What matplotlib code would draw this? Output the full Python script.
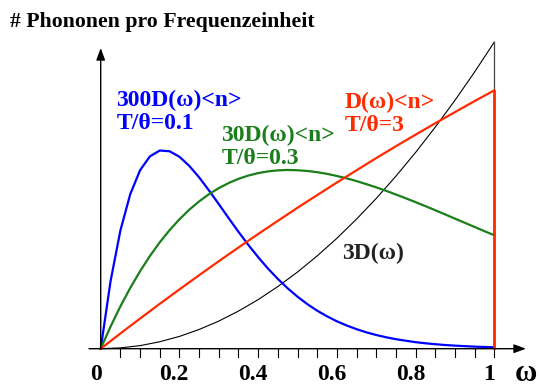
import matplotlib
matplotlib.use("Agg")
import matplotlib.pyplot as plt

# Werte (Einheit: D(w) = 1 bei w = 1)
omega_coarse = [0.0, 0.05, 0.1, 0.15, 0.2, 0.25, 0.3, 0.35, 0.4, 0.45, 0.5,
                0.55, 0.6, 0.65, 0.7, 0.75, 0.8, 0.85, 0.9, 0.95, 1.0]
black_3D = [0.0, 0.008, 0.03, 0.068, 0.12, 0.188, 0.27, 0.368, 0.48, 0.608, 0.75,
            0.908, 1.08, 1.268, 1.47, 1.688, 1.92, 2.168, 2.43, 2.708, 3.0]
red_T3 = [0.0, 0.149, 0.295, 0.439, 0.580, 0.719, 0.856, 0.990, 1.122, 1.251, 1.379,
          1.503, 1.626, 1.746, 1.865, 1.981, 2.094, 2.206, 2.315, 2.423, 2.528]

omega_fine = [0.0, 0.025, 0.05, 0.075, 0.1, 0.125, 0.15, 0.175, 0.2, 0.225, 0.25,
              0.275, 0.3, 0.325, 0.35, 0.375, 0.4, 0.425, 0.45, 0.475, 0.5,
              0.525, 0.55, 0.575, 0.6, 0.625, 0.65, 0.675, 0.7, 0.725, 0.75,
              0.775, 0.8, 0.825, 0.85, 0.875, 0.9, 0.925, 0.95, 0.975, 1.0]
green_T03 = [0.0, 0.216, 0.414, 0.594, 0.758, 0.907, 1.041, 1.160, 1.266, 1.360, 1.441,
             1.512, 1.571, 1.621, 1.662, 1.694, 1.718, 1.735, 1.745, 1.749, 1.746,
             1.739, 1.727, 1.711, 1.690, 1.667, 1.640, 1.610, 1.579, 1.545, 1.509,
             1.472, 1.434, 1.395, 1.355, 1.314, 1.273, 1.232, 1.191, 1.150, 1.110]
blue_T01 = [0.0, 0.660, 1.156, 1.511, 1.746, 1.882, 1.939, 1.932, 1.878, 1.789, 1.677,
            1.549, 1.415, 1.278, 1.144, 1.016, 0.896, 0.784, 0.683, 0.591, 0.509,
            0.436, 0.372, 0.317, 0.268, 0.227, 0.191, 0.160, 0.134, 0.112, 0.093,
            0.078, 0.064, 0.053, 0.044, 0.036, 0.030, 0.025, 0.020, 0.017, 0.014]

tick_pos = [0.05 * i for i in range(1, 21)]
label_pos = [0.0, 0.2, 0.4, 0.6, 0.8, 1.0]
label_txt = ["0", "0.2", "0.4", "0.6", "0.8", "1"]

BLUE = "#0000ff"
GREEN = "#1a7f1a"
RED = "#ff2a00"

plt.rcParams["font.family"] = ["Liberation Serif", "DejaVu Serif"]
plt.rcParams["font.weight"] = "bold"

fig = plt.figure(figsize=(5.4, 3.87), dpi=100)
ax = fig.add_axes([0, 0, 1, 1])

# Pixel -> Datenkoordinaten (Ursprung bei px 100.7/348.7)
X0, XS = 100.7, 393.6
Y0, YS = 348.7, 102.2


def px_x(p):
    return (p - X0) / XS


def px_y(p):
    return (Y0 - p) / YS


ax.set_xlim(px_x(0), px_x(540))
ax.set_ylim(px_y(387), px_y(0))
ax.axis("off")

# Achsen mit Pfeilen
arrow = dict(arrowstyle="-|>,head_length=0.6,head_width=0.22", color="black",
             lw=1.0, mutation_scale=12, shrinkA=0, shrinkB=0)
ax.annotate("", xy=(px_x(526), 0), xytext=(px_x(89), 0), arrowprops=arrow)
ax.annotate("", xy=(0, px_y(48)), xytext=(0, 0), arrowprops=arrow)

for t in tick_pos:
    ax.plot([t, t], [0, px_y(Y0 + 8)], color="black", lw=0.8)

for p, s in zip(label_pos, label_txt):
    ax.text(p - 0.013, px_y(380), s, ha="center", va="baseline",
            fontsize=17, fontweight="bold")
ax.text(px_x(515), px_y(381), "\u03c9", ha="left", va="baseline",
        fontsize=22, fontweight="bold")

# Kurven
ax.plot(omega_coarse, black_3D, color="black", lw=0.8)
ax.vlines(omega_coarse[-1], 0, black_3D[-1], color="#444444", lw=0.9)
ax.plot(omega_fine, blue_T01, color=BLUE, lw=1.6)
ax.plot(omega_fine, green_T03, color=GREEN, lw=1.6)
ax.plot(omega_coarse, red_T3, color=RED, lw=1.6)
ax.vlines(omega_coarse[-1], 0, red_T3[-1], color=RED, lw=2.0)

# Beschriftungen
fs = 17
ax.text(px_x(116.5), px_y(106), "300D(\u03c9)<n>", color=BLUE, fontsize=fs)
ax.text(px_x(116.5), px_y(129), "T/\u03b8=0.1", color=BLUE, fontsize=fs)
ax.text(px_x(221.5), px_y(141), "30D(\u03c9)<n>", color=GREEN, fontsize=fs)
ax.text(px_x(221.5), px_y(164), "T/\u03b8=0.3", color=GREEN, fontsize=fs)
ax.text(px_x(345), px_y(108), "D(\u03c9)<n>", color=RED, fontsize=fs)
ax.text(px_x(345), px_y(131), "T/\u03b8=3", color=RED, fontsize=fs)
ax.text(px_x(342.5), px_y(259.5), "3D(\u03c9)", color="#222222", fontsize=fs)

fig.text(10 / 540, 1 - 26.7 / 387, "# Phononen pro Frequenzeinheit",
         ha="left", va="baseline", fontsize=15.7, fontweight="bold")

fig.savefig("out.png", dpi=100)
